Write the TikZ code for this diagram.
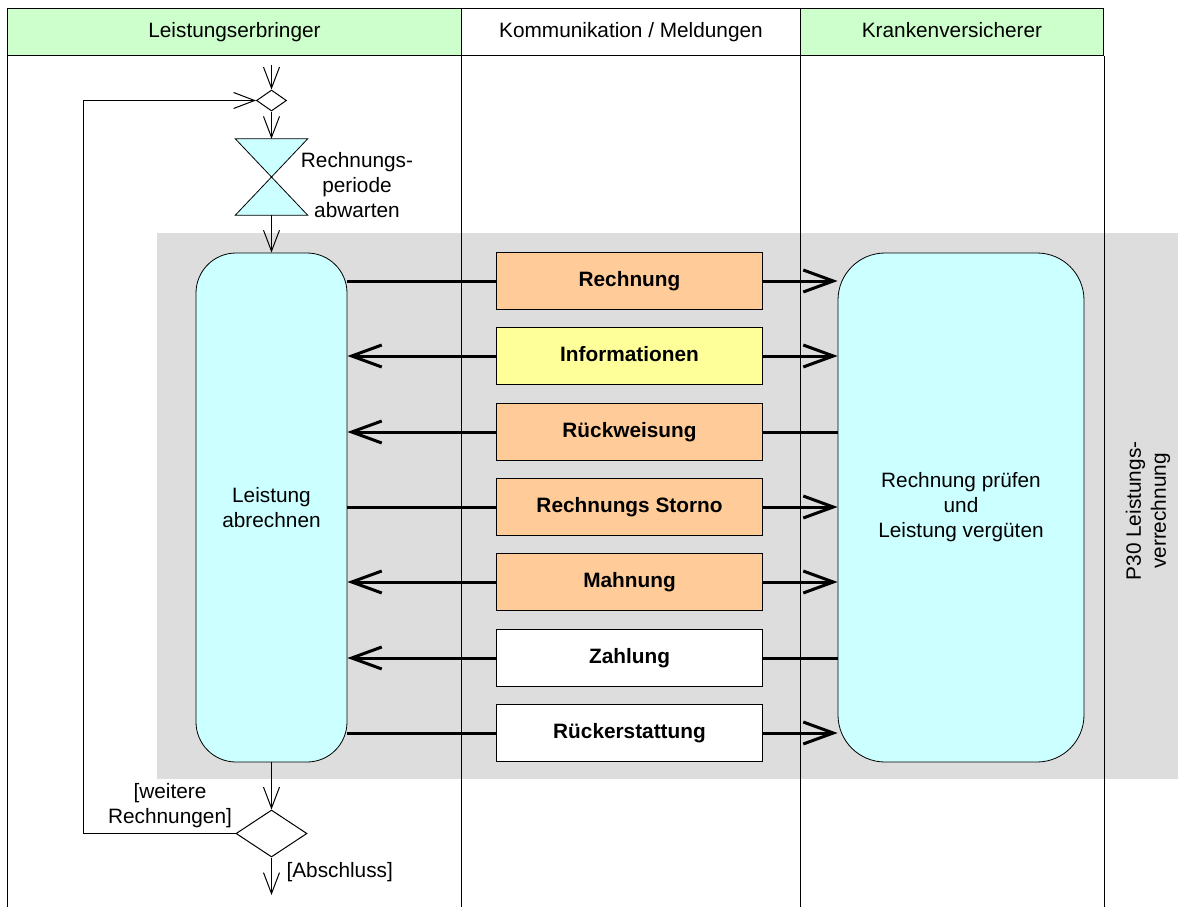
\documentclass[tikz,border=0pt]{standalone}
\usepackage{fontspec}
\setmainfont{Liberation Sans}
\usetikzlibrary{arrows.meta,shapes.geometric}

\definecolor{lanegreen}{HTML}{CCFFCC}
\definecolor{procgray}{HTML}{DDDDDD}
\definecolor{actcyan}{HTML}{CCFFFF}
\definecolor{msgorange}{HTML}{FFCC99}
\definecolor{msgyellow}{HTML}{FFFF99}

\tikzset{
  lanehead/.style={draw, line width=1pt, minimum height=47, inner sep=0, anchor=north west,
                   text height=15pt, text depth=4.4pt},
  laneline/.style={line width=1pt},
  activity/.style={draw, line width=0.8pt, fill=actcyan, align=center, inner sep=0, minimum height=509},
  msgbox/.style={draw, line width=1pt, minimum width=266, minimum height=57, inner sep=0,
                 text height=15pt, text depth=4.4pt,
                 font=\fontsize{20.8}{25}\selectfont\bfseries},
  msgline/.style={line width=3pt},
  msgarrow/.style={msgline, -{Straight Barb[length=30pt,width=22pt]}},
  flow/.style={line width=1pt, -{Straight Barb[length=21pt,width=16pt]}},
  junction/.style={draw, line width=1pt, fill=white, diamond, inner sep=0},
}

\begin{document}
\begin{tikzpicture}[x=1pt, y=-1pt, font=\fontsize{20.8}{25}\selectfont]
\useasboundingbox (0,0) rectangle (1178,907);
\fill[white] (0,0) rectangle (1178,907);

% swimlane headers
\node[lanehead, fill=lanegreen, minimum width=454] (h1) at (7,8) {Leistungserbringer};
\node[lanehead, fill=white, minimum width=339] (h2) at (461,8) {Kommunikation / Meldungen};
\node[lanehead, fill=lanegreen, minimum width=303] (h3) at (800,8) {Krankenversicherer};

% process region P30
\fill[procgray] (157,233) rectangle (1178,779);
\node[rotate=90, align=center] (p30) at (1148,511) {P30 Leistungs-\\verrechnung};

% swimlane borders
\coordinate (bottom) at (0,907);
\draw[laneline] (h1.south west) -- (h1.south west |- bottom);
\draw[laneline] (h2.south west) -- (h2.south west |- bottom);
\draw[laneline] (h3.south west) -- (h3.south west |- bottom);
\draw[laneline] (h3.south east) -- (h3.south east |- bottom);

% activities
\node[activity, rounded corners=40, minimum width=151] (la) at (271.5,507.5) {Leistung\\abrechnen};
\node[activity, rounded corners=47, minimum width=246] (ka) at (961,507.5) {Rechnung prüfen\\und\\Leistung vergüten};

% control flow on the provider side
\coordinate (start) at (271.5,65);
\coordinate (finish) at (271.5,895);
\coordinate (loopx) at (83,0);
\node[junction, minimum width=30, minimum height=21] (d1) at (271.5,100.5) {};
\node[junction, minimum width=71, minimum height=47] (d2) at (271.5,833.5) {};
\node[minimum width=72, minimum height=76, inner sep=0] (hg) at (271.5,177) {};
\filldraw[line width=0.8pt, fill=actcyan] (hg.north west) -- (hg.north east) -- (hg.center) -- cycle;
\filldraw[line width=0.8pt, fill=actcyan] (hg.center) -- (hg.south west) -- (hg.south east) -- cycle;
\node[align=center] (hgl) at (357,185) {Rechnungs-\\periode\\abwarten};

\draw[flow] (start) -- (d1.north);
\draw[flow] (d1.south) -- (hg.north);
\draw[flow] (hg.south) -- (la.north);
\draw[flow] (la.south) -- (d2.north);
\draw[flow] (d2.south) -- (finish);
\draw[flow] (d2.west) -- (loopx |- d2.west) -- (loopx |- d1.west) -- (d1.west);
\node[align=center] (gmore) at (170,806) {[weitere\\Rechnungen]};
\node[anchor=west] (gend) at (283,872) {[Abschluss]};

% messages
\node[msgbox, fill=msgorange] (m1) at (629.5,281) {Rechnung};
\node[msgbox, fill=msgyellow] (m2) at (629.5,356) {Informationen};
\node[msgbox, fill=msgorange] (m3) at (629.5,432) {Rückweisung};
\node[msgbox, fill=msgorange] (m4) at (629.5,507) {Rechnungs Storno};
\node[msgbox, fill=msgorange] (m5) at (629.5,582) {Mahnung};
\node[msgbox, fill=white] (m6) at (629.5,658) {Zahlung};
\node[msgbox, fill=white] (m7) at (629.5,733) {Rückerstattung};

\draw[msgline] (la.east |- m1) -- (m1.west);
\draw[msgarrow] (m1.east) -- (ka.west |- m1);

\draw[msgarrow] (m2.west) -- (la.east |- m2);
\draw[msgarrow] (m2.east) -- (ka.west |- m2);

\draw[msgline] (ka.west |- m3) -- (m3.east);
\draw[msgarrow] (m3.west) -- (la.east |- m3);

\draw[msgline] (la.east |- m4) -- (m4.west);
\draw[msgarrow] (m4.east) -- (ka.west |- m4);

\draw[msgarrow] (m5.west) -- (la.east |- m5);
\draw[msgarrow] (m5.east) -- (ka.west |- m5);

\draw[msgline] (ka.west |- m6) -- (m6.east);
\draw[msgarrow] (m6.west) -- (la.east |- m6);

\draw[msgline] (la.east |- m7) -- (m7.west);
\draw[msgarrow] (m7.east) -- (ka.west |- m7);
\end{tikzpicture}
\end{document}
